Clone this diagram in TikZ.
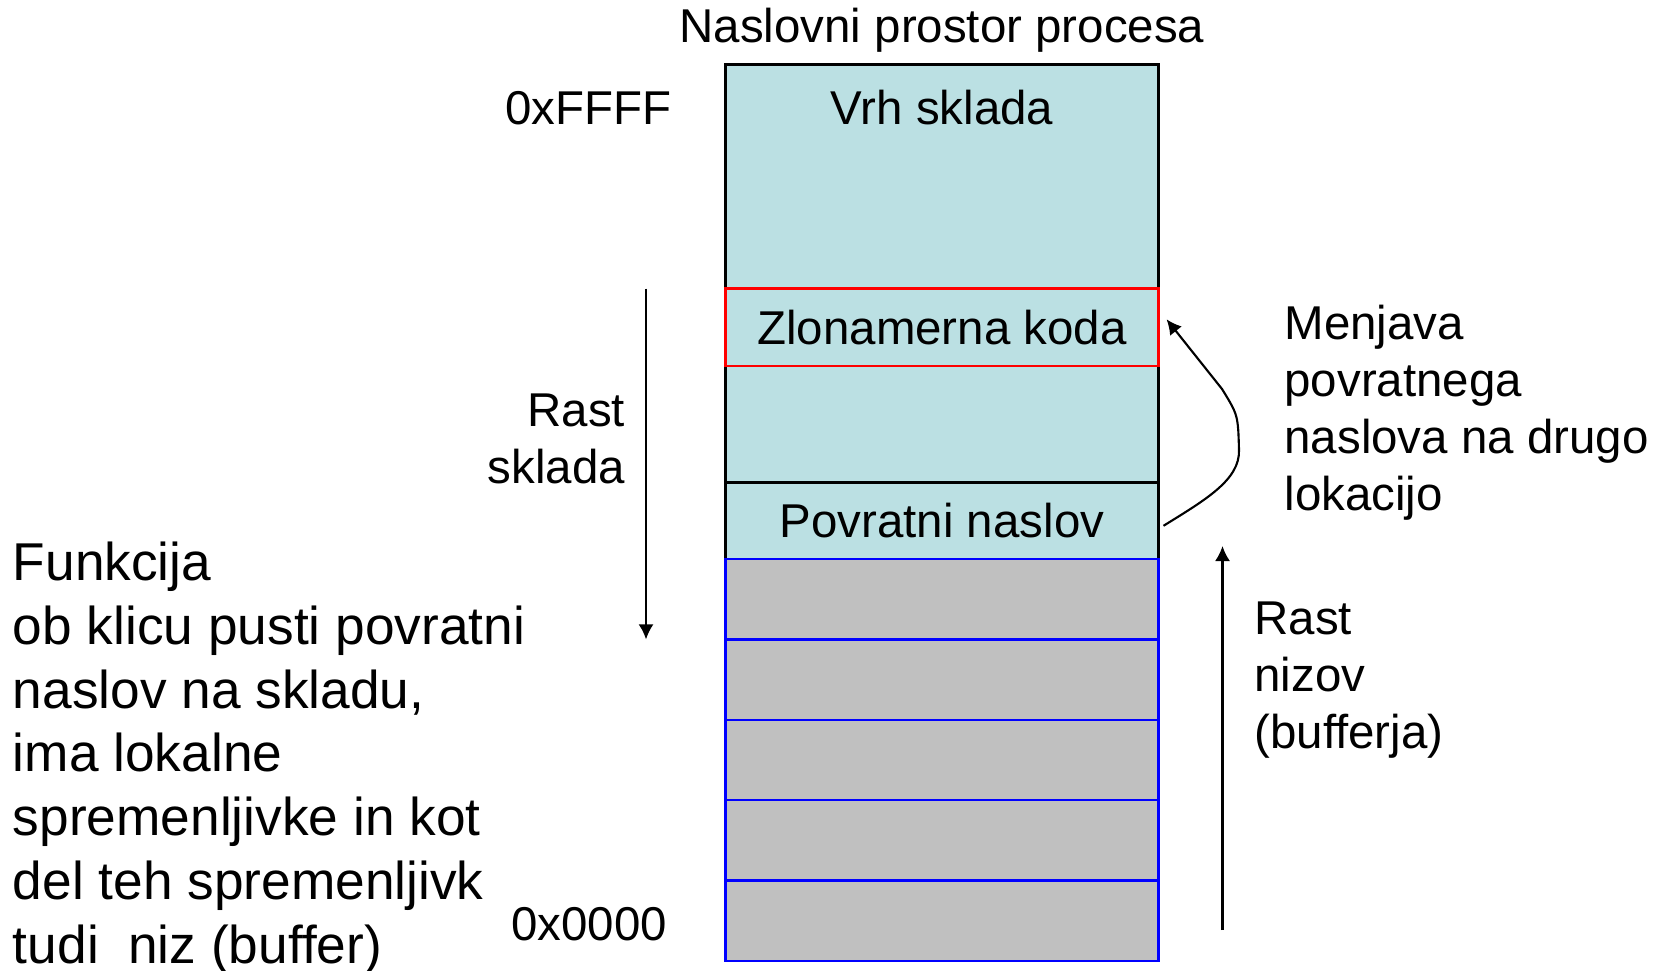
\documentclass[tikz,border=0pt]{standalone}
\usepackage{fontspec}
\setmainfont{Liberation Sans}
\usepackage[HTML]{xcolor}
\usetikzlibrary{positioning, arrows.meta}

\definecolor{stackblue}{HTML}{BBE0E3}
\definecolor{bufgray}{HTML}{C0C0C0}

\begin{document}
\begin{tikzpicture}[>=Latex, node distance=0pt, outer sep=0pt,
    cell/.style={draw=black, line width=0.7pt, fill=stackblue, minimum width=4.33cm,
        inner sep=0pt, font=\fontsize{13.5}{16.2}\selectfont},
    bufcell/.style={draw=blue, line width=0.65pt, fill=bufgray, minimum width=4.33cm,
        minimum height=0.804cm, inner sep=0pt},
    lbl/.style={inner sep=0pt, font=\fontsize{13.5}{16.2}\selectfont},
    biglbl/.style={inner sep=0pt, align=left, font=\fontsize{15.15}{18.15}\selectfont},
    arr/.style={->, >={Latex[length=0.15cm, width=0.15cm]}, line width=0.6pt}]

    \useasboundingbox (0,0) rectangle (16.63,-9.70);

    % 1. Stack cells, top to bottom
    \node[cell, anchor=north west, minimum height=2.238cm] (vrh) at (7.255,-0.647) {};
    \node[cell, draw=red, minimum height=0.775cm, below=of vrh] (zlo) {Zlonamerna koda};
    \node[cell, minimum height=1.166cm, below=of zlo] (mid) {};
    \node[cell, minimum height=0.764cm, below=of mid] (pov) {Povratni naslov};
    \draw[red, line width=0.7pt] (zlo.north west) rectangle (zlo.south east);

    % 2. Buffer cells
    \node[bufcell, below=of pov] (buf1) {};
    \foreach \i [count=\j from 2] in {1,...,4}
        \node[bufcell, below=of buf\i] (buf\j) {};

    % 3. Labels round the stack
    \node[lbl, anchor=base] (title) at ([yshift=0.227cm]vrh.north) {Naslovni prostor procesa};
    \node[lbl, anchor=base] (vrhtxt) at ([yshift=-0.593cm]vrh.north) {Vrh sklada};
    \node[lbl, anchor=base east] (hi) at ([xshift=-0.54cm, yshift=-0.593cm]vrh.north west) {0xFFFF};
    \node[lbl, anchor=base east] (lo) at ([xshift=-0.585cm, yshift=0.21cm]buf5.south west) {0x0000};
    \node[lbl, align=right, anchor=north east] (rastsk) at ([xshift=-1.005cm, yshift=-1.055cm]vrh.south west) {Rast\\sklada};
    \node[lbl, align=left, anchor=north west] (menjava) at ([xshift=1.26cm, yshift=-0.165cm]zlo.north east) {Menjava\\povratnega\\naslova na drugo\\lokacijo};
    \node[lbl, align=left, anchor=north west] (rastniz) at ([xshift=0.96cm, yshift=-0.43cm]buf1.north east) {Rast\\nizov\\(bufferja)};
    \node[biglbl, anchor=north west] (funk) at (0.13,-5.42) {Funkcija\\ob klicu pusti povratni\\naslov na skladu,\\ima lokalne\\spremenljivke in kot\\del teh spremenljivk\\tudi\ \ niz (buffer)};

    % 4. Growth arrows
    \coordinate (skdown1) at ([xshift=-0.795cm]vrh.south west);
    \coordinate (skdown2) at ([xshift=-0.795cm]buf1.south west);
    \draw[arr] (skdown1) -- (skdown2);
    \coordinate (nzup1) at ([xshift=0.64cm, yshift=0.31cm]buf5.south east);
    \coordinate (nzup2) at ([xshift=0.64cm, yshift=0.13cm]pov.south east);
    \draw[arr] (nzup1) -- (nzup2);

    % 5. Changed return address
    \coordinate (retfrom) at ([xshift=0.05cm, yshift=-0.05cm]pov.east);
    \coordinate (retto) at ([xshift=0.08cm, yshift=0.08cm]zlo.east);
    \draw[arr] (retfrom) .. controls (12.05,-5.00) and (12.40,-4.80) .. (12.39,-4.50)
        .. controls (12.38,-4.15) .. (12.22,-3.89) -- (retto);
\end{tikzpicture}
\end{document}
